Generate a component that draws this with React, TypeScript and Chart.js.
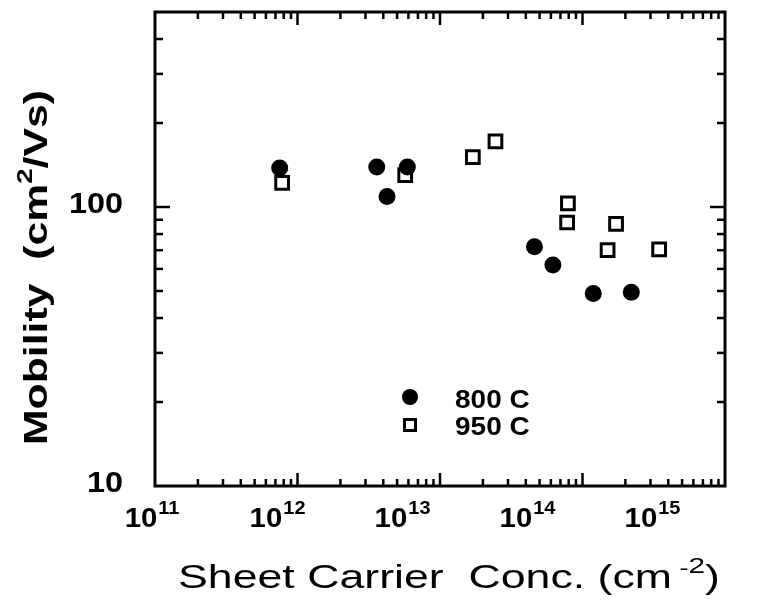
import React, { useEffect, useRef } from "react";
import { Chart, registerables } from "chart.js";

Chart.register(...registerables);

// Sheet carrier concentration (cm^-2) and Hall mobility (cm^2/Vs)
const conc800 = [7.5e11, 3.6e12, 4.25e12, 5.9e12, 4.6e13, 6.2e13, 1.19e14, 2.2e14];
const mob800 = [138, 139, 109, 139, 72, 62, 49, 49.5];
const conc950 = [7.8e11, 5.7e12, 1.7e13, 2.45e13, 7.9e13, 7.8e13, 1.72e14, 1.5e14, 3.45e14];
const mob950 = [122, 130, 151, 172, 103, 88, 87, 70, 70.5];
const seriesNames = ["800 C", "950 C"];
const xDecades = [11, 12, 13, 14, 15];
const yTickValues = [10, 100];

const FONT = '"Liberation Sans", Arial, Helvetica, sans-serif';

type Run = { t: string; size: number; weight: string; rise: number };

function runsWidth(ctx: CanvasRenderingContext2D, runs: Run[]) {
  let w = 0;
  for (const r of runs) {
    ctx.font = `${r.weight} ${r.size}px ${FONT}`;
    w += ctx.measureText(r.t).width;
  }
  return w;
}

function drawRuns(ctx: CanvasRenderingContext2D, runs: Run[], x: number, y: number, sx: number) {
  ctx.save();
  ctx.translate(x, y);
  ctx.scale(sx, 1);
  ctx.textBaseline = "alphabetic";
  ctx.textAlign = "left";
  let cx = 0;
  for (const r of runs) {
    ctx.font = `${r.weight} ${r.size}px ${FONT}`;
    ctx.fillText(r.t, cx, -r.rise);
    cx += ctx.measureText(r.t).width;
  }
  ctx.restore();
}

const framePlugin = {
  id: "frameAndText",
  afterDatasetsDraw(chart: any) {
    const { ctx, chartArea: a, scales } = chart;
    const xs = scales.x;
    const ys = scales.y;
    ctx.save();
    ctx.strokeStyle = "#000";
    ctx.fillStyle = "#000";

    // plot frame
    ctx.lineWidth = 3;
    ctx.strokeRect(a.left, a.top, a.right - a.left, a.bottom - a.top);

    // inward tick marks
    ctx.lineWidth = 2.5;
    const seg = (x1: number, y1: number, x2: number, y2: number) => {
      ctx.beginPath();
      ctx.moveTo(x1, y1);
      ctx.lineTo(x2, y2);
      ctx.stroke();
    };
    for (let d = 11; d < 15; d++) {
      for (let m = 1; m <= 9; m++) {
        if (d === 11 && m === 1) continue;
        const px = xs.getPixelForValue(m * Math.pow(10, d));
        const len = m === 1 ? 13 : 7;
        seg(px, a.bottom, px, a.bottom - len);
        seg(px, a.top, px, a.top + len);
      }
    }
    for (let d = 1; d <= 2; d++) {
      for (let m = 1; m <= 9; m++) {
        const v = m * Math.pow(10, d);
        if (v <= ys.min || v >= ys.max) continue;
        const py = ys.getPixelForValue(v);
        const len = m === 1 ? 15 : 8;
        seg(a.left, py, a.left + len, py);
        seg(a.right, py, a.right - len, py);
      }
    }

    // y tick labels
    for (const v of yTickValues) {
      const runs: Run[] = [{ t: String(v), size: 30, weight: "bold", rise: 0 }];
      const sx = 1.08;
      const w = runsWidth(ctx, runs) * sx;
      drawRuns(ctx, runs, a.left - 32 - w, ys.getPixelForValue(v) + 6, sx);
    }

    // x tick labels: 10 with superscript exponent
    for (const d of xDecades) {
      const px = xs.getPixelForValue(Math.pow(10, d));
      const center = a.left - 14 + (px - a.left) * 0.877;
      ctx.font = `bold 28px ${FONT}`;
      const baseW = ctx.measureText("10").width * 1.05;
      drawRuns(ctx, [{ t: "10", size: 28, weight: "bold", rise: 0 }], center - baseW / 2, 527, 1.05);
      drawRuns(ctx, [{ t: String(d), size: 19, weight: "bold", rise: 0 }], center + baseW / 2 + 1, 514, 1.05);
    }

    // x axis title
    const xRuns: Run[] = [
      { t: "Sheet Carrier  Conc. (cm", size: 33, weight: "normal", rise: 0 },
      { t: " -", size: 20, weight: "normal", rise: 13 },
      { t: "2", size: 22, weight: "normal", rise: 15 },
      { t: ")", size: 33, weight: "normal", rise: 0 },
    ];
    {
      const left = 178;
      const right = 720;
      const sx = (right - left) / runsWidth(ctx, xRuns);
      drawRuns(ctx, xRuns, left, 588, sx);
    }

    // y axis title, rotated
    const yRuns: Run[] = [
      { t: "Mobility  (cm", size: 34, weight: "bold", rise: 0 },
      { t: "2", size: 22, weight: "bold", rise: 15 },
      { t: "/Vs)", size: 34, weight: "bold", rise: 0 },
    ];
    {
      const start = 445;
      const end = 90;
      const sx = (start - end) / runsWidth(ctx, yRuns);
      ctx.save();
      ctx.translate(47, start);
      ctx.rotate(-Math.PI / 2);
      drawRuns(ctx, yRuns, 0, 0, sx);
      ctx.restore();
    }

    // legend
    ctx.beginPath();
    ctx.arc(410, 397, 8, 0, Math.PI * 2);
    ctx.fill();
    ctx.lineWidth = 3;
    ctx.strokeRect(404.5, 419.5, 11, 11);
    drawRuns(ctx, [{ t: seriesNames[0], size: 25, weight: "bold", rise: 0 }], 455, 408, 1.12);
    drawRuns(ctx, [{ t: seriesNames[1], size: 25, weight: "bold", rise: 0 }], 455, 435, 1.12);

    ctx.restore();
  },
};

export default function App() {
  const ref = useRef<HTMLCanvasElement | null>(null);

  useEffect(() => {
    if (!ref.current) return;
    const chart = new Chart(ref.current, {
      type: "scatter",
      data: {
        datasets: [
          {
            label: seriesNames[1],
            data: conc950.map((x, i) => ({ x, y: mob950[i] })),
            pointStyle: "rect",
            pointRadius: 9,
            borderWidth: 3,
            borderColor: "#000",
            backgroundColor: "rgba(0,0,0,0)",
          },
          {
            label: seriesNames[0],
            data: conc800.map((x, i) => ({ x, y: mob800[i] })),
            pointStyle: "circle",
            pointRadius: 8.5,
            borderWidth: 0,
            backgroundColor: "#000",
          },
        ],
      },
      options: {
        responsive: false,
        animation: false,
        layout: { padding: { left: 155, right: 32, top: 12, bottom: 121 } },
        scales: {
          x: { type: "logarithmic", min: 1e11, max: 1e15, display: false },
          y: { type: "logarithmic", min: 10, max: 500, display: false },
        },
        plugins: {
          legend: { display: false },
          tooltip: { enabled: false },
        },
        clip: false as any,
      },
      plugins: [framePlugin],
    });
    return () => chart.destroy();
  }, []);

  return (
    <div style={{ position: "absolute", left: 0, top: 0, width: 757, height: 607, background: "#fff" }}>
      <canvas ref={ref} width={757} height={607} style={{ display: "block" }} />
    </div>
  );
}
